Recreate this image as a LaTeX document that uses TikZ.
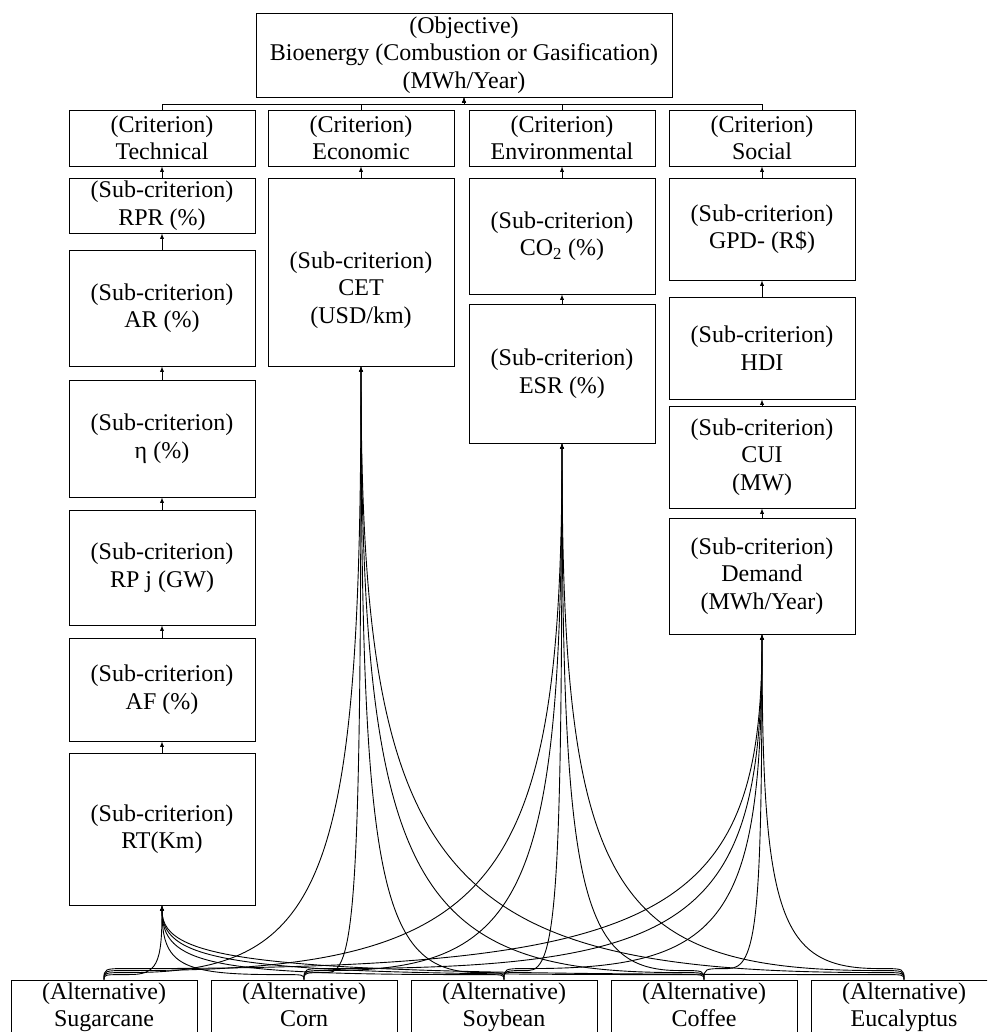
\documentclass[tikz,border=0pt]{standalone}
\usepackage{fontspec}
\setmainfont{Liberation Serif}
\usetikzlibrary{arrows}
\tikzset{
  box/.style={draw, align=center, minimum width=186, inner sep=0},
  link/.style={-latex}
}
\begin{document}
\begin{tikzpicture}[x=1pt,y=-1pt,line width=0.9pt,font={\fontsize{24}{27.5}\selectfont}]
\path[use as bounding box,clip] (0,0) rectangle (987,1032);
% objective on top
\node[box, minimum width=416, minimum height=84] (obj) at (464,55) {(Objective)\\Bioenergy (Combustion or Gasification)\\(MWh/Year)};
\coordinate (bar) at (464,104);
% criteria
\foreach \x/\n/\t in {162/tech/Technical, 361/eco/Economic, 562/env/Environmental, 762/soc/Social}
{\node[box, minimum height=56] (\n) at (\x,138) {(Criterion)\\\t};
 \draw[link] (\n.north) |- (bar) -- (obj.south);}
% technical
\node[box, minimum height=55] (rpr) at (162,205.5) {(Sub-criterion)\\RPR (\%)};
\node[box, minimum height=116] (ar) at (162,308) {(Sub-criterion)\\AR (\%)};
\node[box, minimum height=117] (eta) at (162,438.5) {(Sub-criterion)\\η (\%)};
\node[box, minimum height=115] (rpj) at (162,567.5) {(Sub-criterion)\\RP j (GW)};
\node[box, minimum height=103] (af) at (162,689.5) {(Sub-criterion)\\AF (\%)};
\node[box, minimum height=152] (rt) at (162,829) {(Sub-criterion)\\RT(Km)};
% economic
\node[box, minimum height=188] (cet) at (361,272) {};
\node[align=center, inner sep=0] (cettxt) at (361,290) {(Sub-criterion)\\CET\\(USD/km)};
% environmental
\node[box, minimum height=116] (co2) at (562,236) {(Sub-criterion)\\CO\textsubscript{2} (\%)};
\node[box, minimum height=139] (esr) at (562,373.5) {(Sub-criterion)\\ESR (\%)};
% social
\node[box, minimum height=102] (gpd) at (762,229) {(Sub-criterion)\\GPD- (R\$)};
\node[box, minimum height=102] (hdi) at (762,348) {(Sub-criterion)\\HDI};
\node[box, minimum height=102] (cui) at (762,457) {(Sub-criterion)\\CUI\\(MW)};
\node[box, minimum height=116] (dem) at (762,576) {(Sub-criterion)\\Demand\\(MWh/Year)};
\foreach \a/\b in {rpr/tech, ar/rpr, eta/ar, rpj/eta, af/rpj, rt/af, cet/eco, co2/env, esr/co2, gpd/soc, hdi/gpd, cui/hdi, dem/cui}
  \draw[link] (\a.north) -- (\b.south);
% alternatives
\foreach \x/\n/\t in {104/a1/Sugarcane, 304/a2/Corn, 504/a3/Soybean, 704/a4/Coffee, 904/a5/Eucalyptus}
  \node[box, minimum height=55] (\n) at (\x,1007.5) {\strut(Alternative)\\\strut\t};
\foreach \n/\x in {a1/104, a2/304, a3/504, a4/704, a5/904}
  \foreach \t/\tx/\ty/\r in {rt/162/905/5, cet/361/366/7, esr/562/443/9, dem/762/634/11}
  {\pgfmathsetmacro\d{24*sign(\tx-\x)}
   \pgfmathsetmacro\dn{-24*sign(\tx-\x)}
   \pgfmathsetmacro\ca{\x+\d+0.85*(\tx-\x-\d)} % first control, x
   \pgfmathsetmacro\cb{\ty+0.85*(980-\r-\ty)} % second control, y
   \draw[link] (\n.north) .. controls +(0,-\r) and +(\dn,0) .. ++(\d,-\r)
     .. controls ({\ca},{980-\r}) and ({\tx},{\cb}) .. (\t.south);}
\end{tikzpicture}
\end{document}
